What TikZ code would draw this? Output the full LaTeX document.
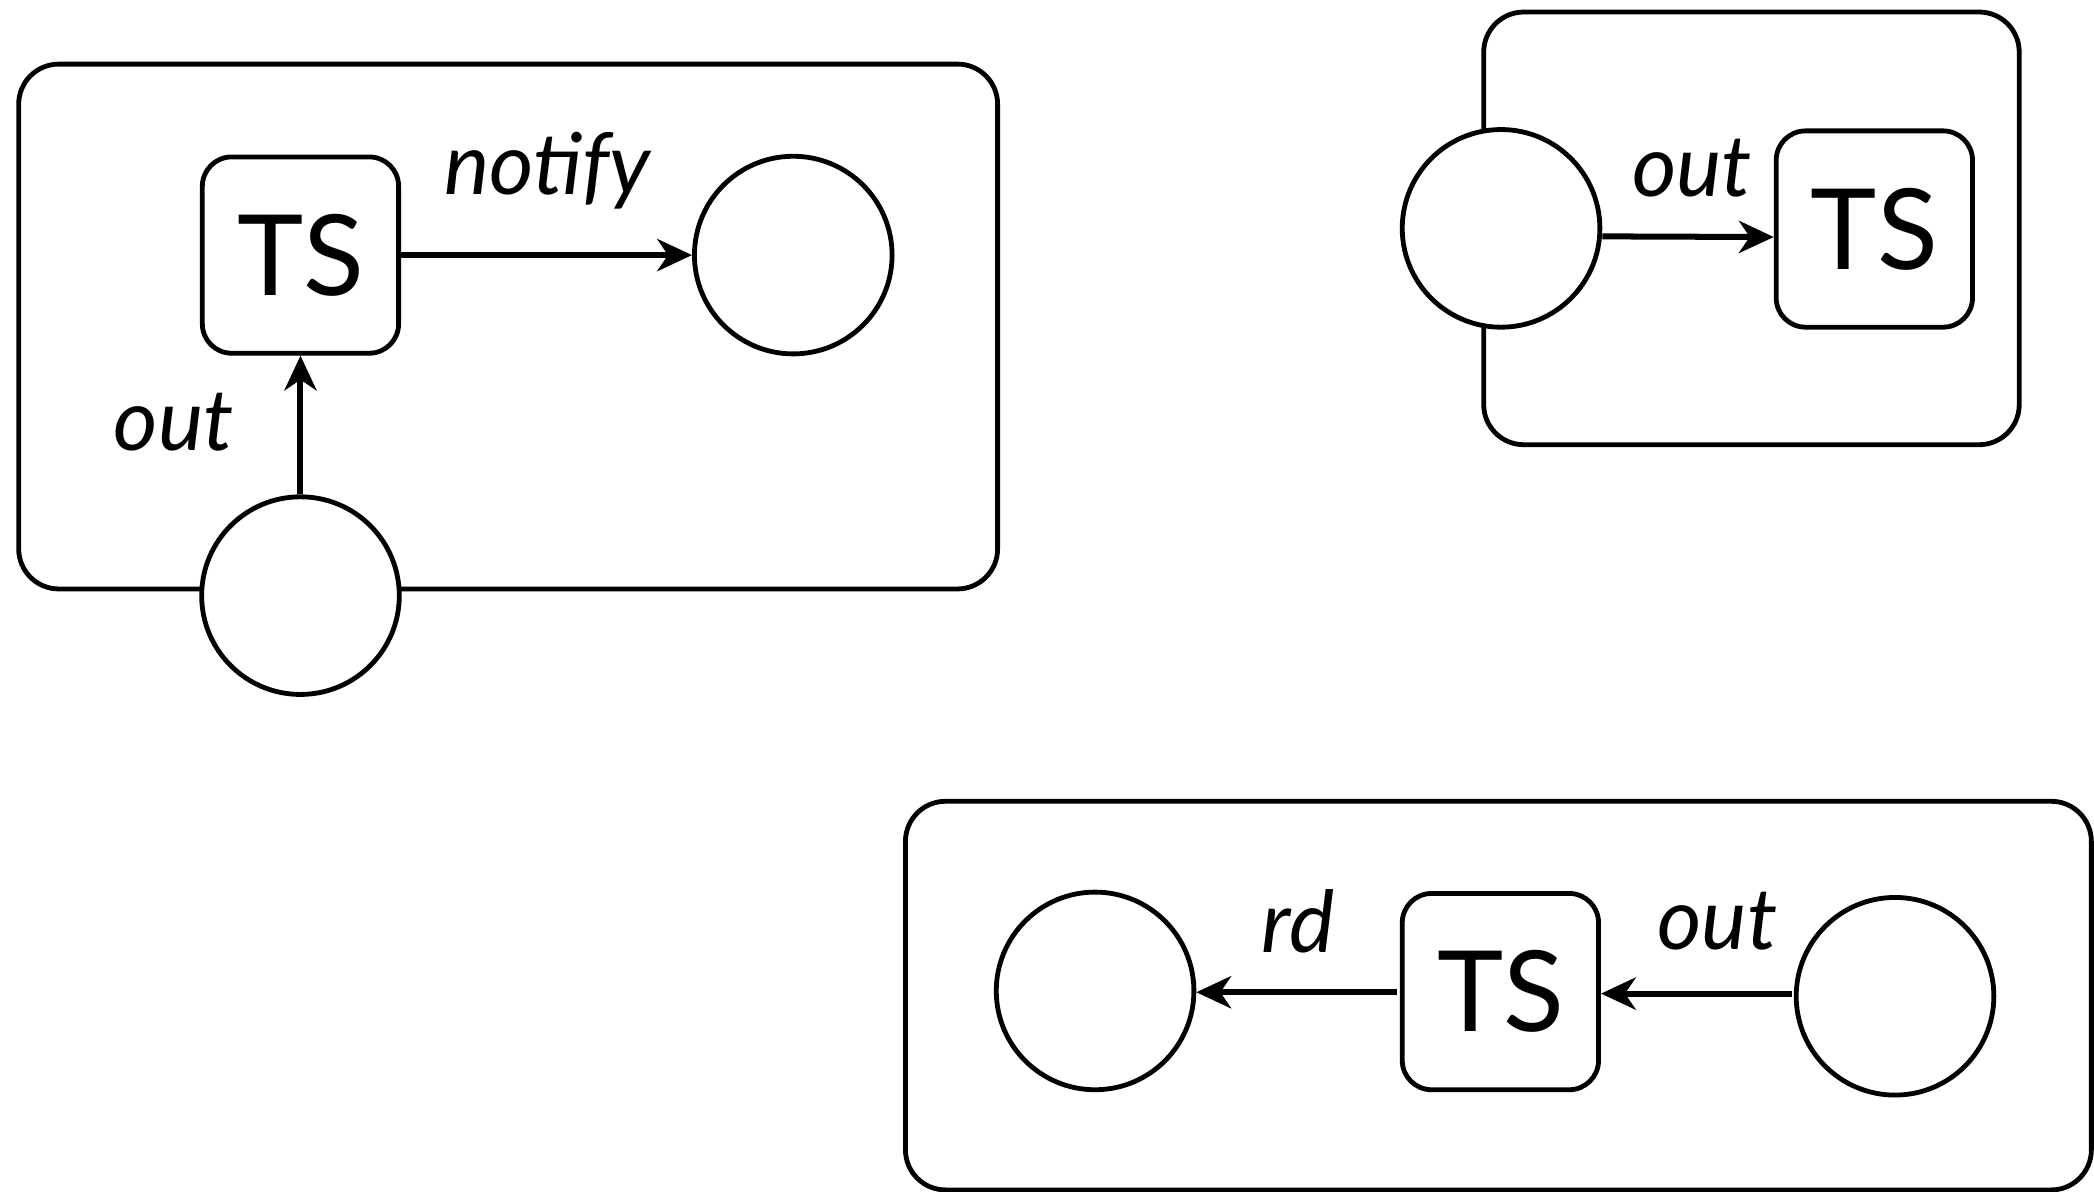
\documentclass[tikz,border=0pt]{standalone}
\usepackage{fontspec}
\setmainfont{Lato}
\usetikzlibrary{arrows.meta}
\begin{document}
\begin{tikzpicture}[x=1pt,y=-1pt,line width=3.6pt,
  container/.style={draw,rounded corners=30pt,inner sep=0pt},
  place/.style={draw,circle,fill=white,minimum size=148pt,inner sep=0pt},
  ts/.style={draw,fill=white,rounded corners=22pt,minimum size=147pt,inner sep=0pt,font=\fontsize{84}{86}\selectfont},
  lbl/.style={font=\fontsize{64}{66}\selectfont\itshape,inner sep=0pt},
  arr/.style={line width=4.5pt,-{Stealth[length=26pt,width=24pt,inset=8pt]}}]
\useasboundingbox (0,0) rectangle (1568,892);
\clip (0,0) rectangle (1568,892);
% box 1
\node[container,minimum width=733pt,minimum height=393pt] (b1) at (380.5,244.5) {};
\node[ts] (t1) at (225,191) {TS};
\node[place] (c1) at (594,191) {};
\node[place] (c2) at (225,446) {};
\draw[arr] (c2) -- (t1);
\draw[arr] (t1) -- (c1);
\node[lbl] (l1) at (410,128) {notify};
\node[lbl] (l2) at (130,316) {out};
% box 2
\node[container,minimum width=401pt,minimum height=324pt] (b2) at (1311.5,171) {};
\node[place] (c3) at (1124,171) {};
\node[ts] (t2) at (1403.5,171.5) {TS};
\draw[arr] ([yshift=-6pt]c3.east) -- ([yshift=-6pt]t2.west);
\node[lbl] (l3) at (1267,126) {out};
% box 3
\node[container,minimum width=888pt,minimum height=291pt] (b3) at (1122,745.5) {};
\node[place] (c4) at (820,742) {};
\node[ts] (t3) at (1123.5,742.5) {TS};
\node[place] (c5) at (1419,746) {};
\coordinate (a3) at (1342,744);
\coordinate (a4) at (1046,743);
\draw[arr] (a3) -- (t3.east |- a3);
\draw[arr] (a4) -- (c4.east |- a4);
\node[lbl] (l4) at (972,690) {rd};
\node[lbl] (l5) at (1286,690) {out};
\end{tikzpicture}
\end{document}
